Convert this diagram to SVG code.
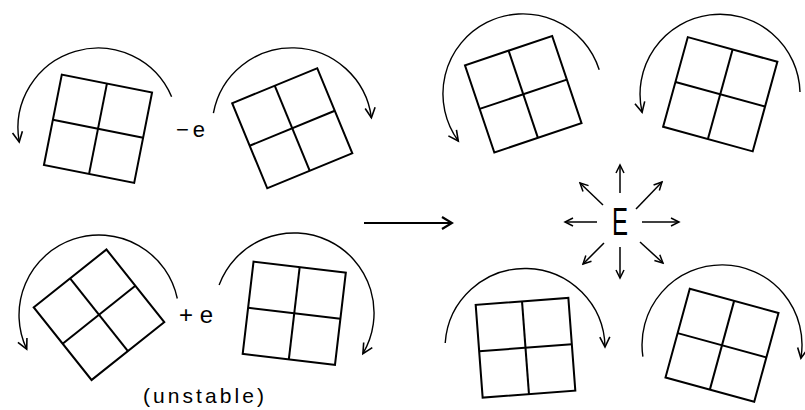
<svg xmlns="http://www.w3.org/2000/svg" xmlns:xlink="http://www.w3.org/1999/xlink" width="805" height="410" viewBox="0 0 805 410">
<style>
.sq{fill:none;stroke:#000;stroke-width:2;stroke-linejoin:miter}
.arc{fill:none;stroke:#000;stroke-width:1.4;marker-end:url(#v)}
.ray{fill:none;stroke:#000;stroke-width:1.5;marker-end:url(#vs)}
.main{fill:none;stroke:#000;stroke-width:2;marker-end:url(#vm)}
.t{font-family:"Liberation Sans",Arial,sans-serif;fill:#000}
</style>
<defs>
<marker id="v" markerUnits="userSpaceOnUse" markerWidth="14" markerHeight="14" viewBox="-12 -7 14 14" refX="0" refY="0" orient="auto">
<path d="M-10,-5 L0,0 L-10,5" fill="none" stroke="#000" stroke-width="1.6"/>
</marker>
<marker id="vs" markerUnits="userSpaceOnUse" markerWidth="12" markerHeight="12" viewBox="-10 -6 12 12" refX="0" refY="0" orient="auto">
<path d="M-8,-4 L0,0 L-8,4" fill="none" stroke="#000" stroke-width="1.5"/>
</marker>
<marker id="vm" markerUnits="userSpaceOnUse" markerWidth="14" markerHeight="16" viewBox="-12 -8 14 16" refX="0" refY="0" orient="auto">
<path d="M-10,-6 L0,0 L-10,6" fill="none" stroke="#000" stroke-width="2.2"/>
</marker>
<g id="grid" class="sq">
<rect x="-46" y="-46" width="92" height="92"/>
<line x1="0" y1="-46" x2="0" y2="46"/>
<line x1="-46" y1="0" x2="46" y2="0"/>
</g>
</defs>
<rect width="805" height="410" fill="#fff"/>

<g id="sq-tl" transform="translate(98,128.75) rotate(11.2)"><use xlink:href="#grid"/></g>
<g id="sq-t2" transform="translate(292.25,128.25) rotate(-22.4)"><use xlink:href="#grid"/></g>
<g id="sq-bl" transform="translate(99,314.75) rotate(-38.5) scale(1.01)"><use xlink:href="#grid"/></g>
<g id="sq-b2" transform="translate(294.25,313.25) rotate(6.7) scale(1.01)"><use xlink:href="#grid"/></g>
<g id="sq-r1" transform="translate(523.25,94.25) rotate(-18.6)"><use xlink:href="#grid"/></g>
<g id="sq-r2" transform="translate(720.25,94.25) rotate(15.4) scale(1.01)"><use xlink:href="#grid"/></g>
<g id="sq-r3" transform="translate(525.5,347.75) rotate(-4.3) scale(1.01)"><use xlink:href="#grid"/></g>
<g id="sq-r4" transform="translate(722,345.25) rotate(15.3)"><use xlink:href="#grid"/></g>

<g id="labels">
<text class="t" x="176" y="137" font-size="22" textLength="29" lengthAdjust="spacing">−e</text>
<text class="t" x="179" y="323" font-size="24" textLength="34" lengthAdjust="spacing">+e</text>
<text class="t" x="143" y="403" font-size="21" textLength="121" lengthAdjust="spacing">(unstable)</text>
<text class="t" id="E" x="612" y="235" font-size="39" textLength="16" lengthAdjust="spacingAndGlyphs">E</text>
</g>

<g id="connectors">
<path class="arc" d="M171.6,96.7 A80,80 0 0 0 19.2,141.9"/>
<path class="arc" d="M213.4,113.1 A80,80 0 0 1 371.4,117.8"/>
<path class="arc" d="M177.3,298.5 A80,80 0 1 0 26.7,349.2"/>
<path class="arc" d="M219.1,285 A80,80 0 1 1 362.9,353.7"/>
<path class="arc" d="M599.2,69.7 A80,80 0 1 0 458.3,141"/>
<path class="arc" d="M800,92 A80,80 0 1 0 642.1,112.3"/>
<path class="arc" d="M445.2,343 A80,80 0 0 1 605,347"/>
<path class="arc" d="M642.9,356.7 A80,80 0 1 1 800.9,358.2"/>
<line class="main" x1="364" y1="223" x2="452" y2="223"/>
<line class="ray" x1="620" y1="193" x2="620" y2="165"/>
<line class="ray" x1="603" y1="205" x2="580" y2="183"/>
<line class="ray" x1="636" y1="209" x2="662" y2="182"/>
<line class="ray" x1="597" y1="222" x2="565" y2="222"/>
<line class="ray" x1="642" y1="222" x2="679" y2="222"/>
<line class="ray" x1="604" y1="243" x2="583" y2="264"/>
<line class="ray" x1="620" y1="247" x2="620" y2="278"/>
<line class="ray" x1="640" y1="242" x2="663" y2="263"/>
</g>
</svg>
